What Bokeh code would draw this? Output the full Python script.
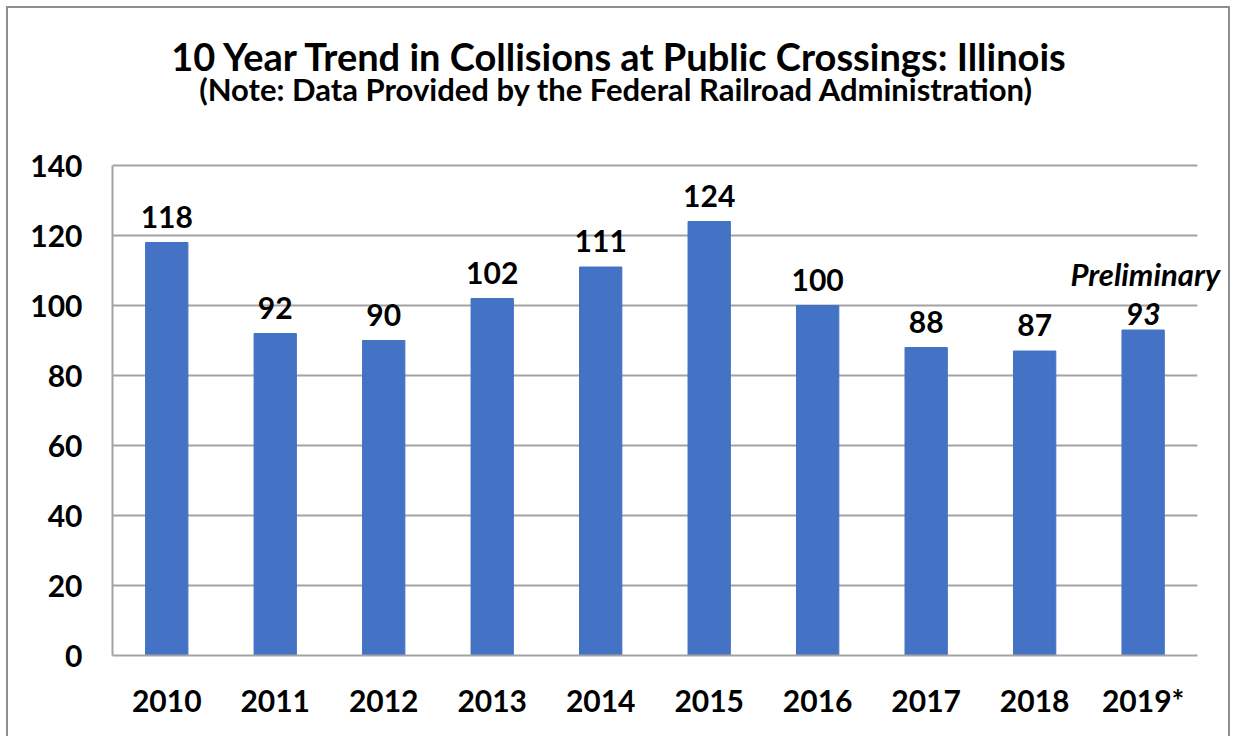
from bokeh.plotting import figure
from bokeh.models import (ColumnDataSource, Label, LabelSet, Range1d, FixedTicker,
                          InlineStyleSheet)
from bokeh.core.properties import value
from bokeh.embed import file_html
from bokeh.resources import INLINE

years = ["2010", "2011", "2012", "2013", "2014", "2015", "2016", "2017", "2018", "2019*"]
collisions = [118, 92, 90, 102, 111, 124, 100, 88, 87, 93]
y_ticks = [0, 20, 40, 60, 80, 100, 120, 140]

title_text = "10 Year Trend in Collisions at Public Crossings: Illinois"
subtitle_text = "(Note: Data Provided by the Federal Railroad  Administration)"
prelim_text = "Preliminary"

FONT = "Lato"
GRID = "#a3a3a3"
BAR = "#4472C4"

xpos = [i + 0.5 for i in range(len(years))]
label_text = [str(v) for v in collisions[:-1]] + [""]
src = ColumnDataSource(dict(x=xpos, y=collisions, t=label_text))
n = len(years)

p = figure(width=1233, height=736, x_range=Range1d(0, 10.25), y_range=Range1d(0, 184),
           output_backend="svg", toolbar_location=None,
           min_border_left=112, min_border_right=9, min_border_top=11, min_border_bottom=81)
p.stylesheets = [InlineStyleSheet(css=""":host::after { content: ""; position: absolute;
  left: 6px; top: 6px; right: 3px; bottom: 0px; border: 2px solid #8f8f8f;
  border-bottom: none; pointer-events: none; box-sizing: border-box; }""")]
p.outline_line_color = None
p.grid.visible = False

# horizontal gridlines across the bar area
p.segment(x0=[0] * (len(y_ticks) - 1), x1=[n] * (len(y_ticks) - 1),
          y0=y_ticks[1:], y1=y_ticks[1:], line_color=GRID, line_width=2)

p.vbar(x="x", top="y", width=0.39, source=src, color=BAR)

p.add_layout(LabelSet(x="x", y="y", text="t", source=src, text_align="center",
                      text_baseline="alphabetic", y_offset=15, text_font=value(FONT),
                      text_font_style="bold", text_font_size="30px", text_color="black"))

p.add_layout(Label(x=xpos[-1], y=collisions[-1], text=str(collisions[-1]), text_align="center",
                   text_baseline="alphabetic", y_offset=16, text_font=FONT,
                   text_font_style="bold italic", text_font_size="30px", text_color="black"))
p.add_layout(Label(x=10.21, y=105.7, text=prelim_text, text_align="right",
                   text_baseline="alphabetic", y_offset=12, text_font=FONT,
                   text_font_style="bold italic", text_font_size="31px", text_color="black"))

p.add_layout(Label(x=4.68, y=167.4, text=title_text, text_align="center",
                   text_baseline="alphabetic", y_offset=14, text_font=FONT,
                   text_font_style="bold", text_font_size="38px", text_color="black"))
p.add_layout(Label(x=4.68, y=158.3, text=subtitle_text, text_align="center",
                   text_baseline="alphabetic", y_offset=12, text_font=FONT,
                   text_font_style="bold", text_font_size="31px", text_color="black"))

p.yaxis.ticker = FixedTicker(ticks=y_ticks)
p.yaxis.bounds = (0, 140)
p.xaxis.ticker = FixedTicker(ticks=xpos)
p.xaxis.major_label_overrides = {x: y for x, y in zip(xpos, years)}
p.xaxis.bounds = (0, n)

for ax in (p.xaxis, p.yaxis):
    ax.axis_line_color = GRID
    ax.axis_line_width = 2
    ax.major_tick_line_color = None
    ax.minor_tick_line_color = None
    ax.major_label_text_font = FONT
    ax.major_label_text_font_style = "bold"
    ax.major_label_text_font_size = "30px"
    ax.major_label_text_color = "black"
p.yaxis.major_label_standoff = 24
p.xaxis.major_label_standoff = 20

open("out.html", "w").write(file_html(p, INLINE))
